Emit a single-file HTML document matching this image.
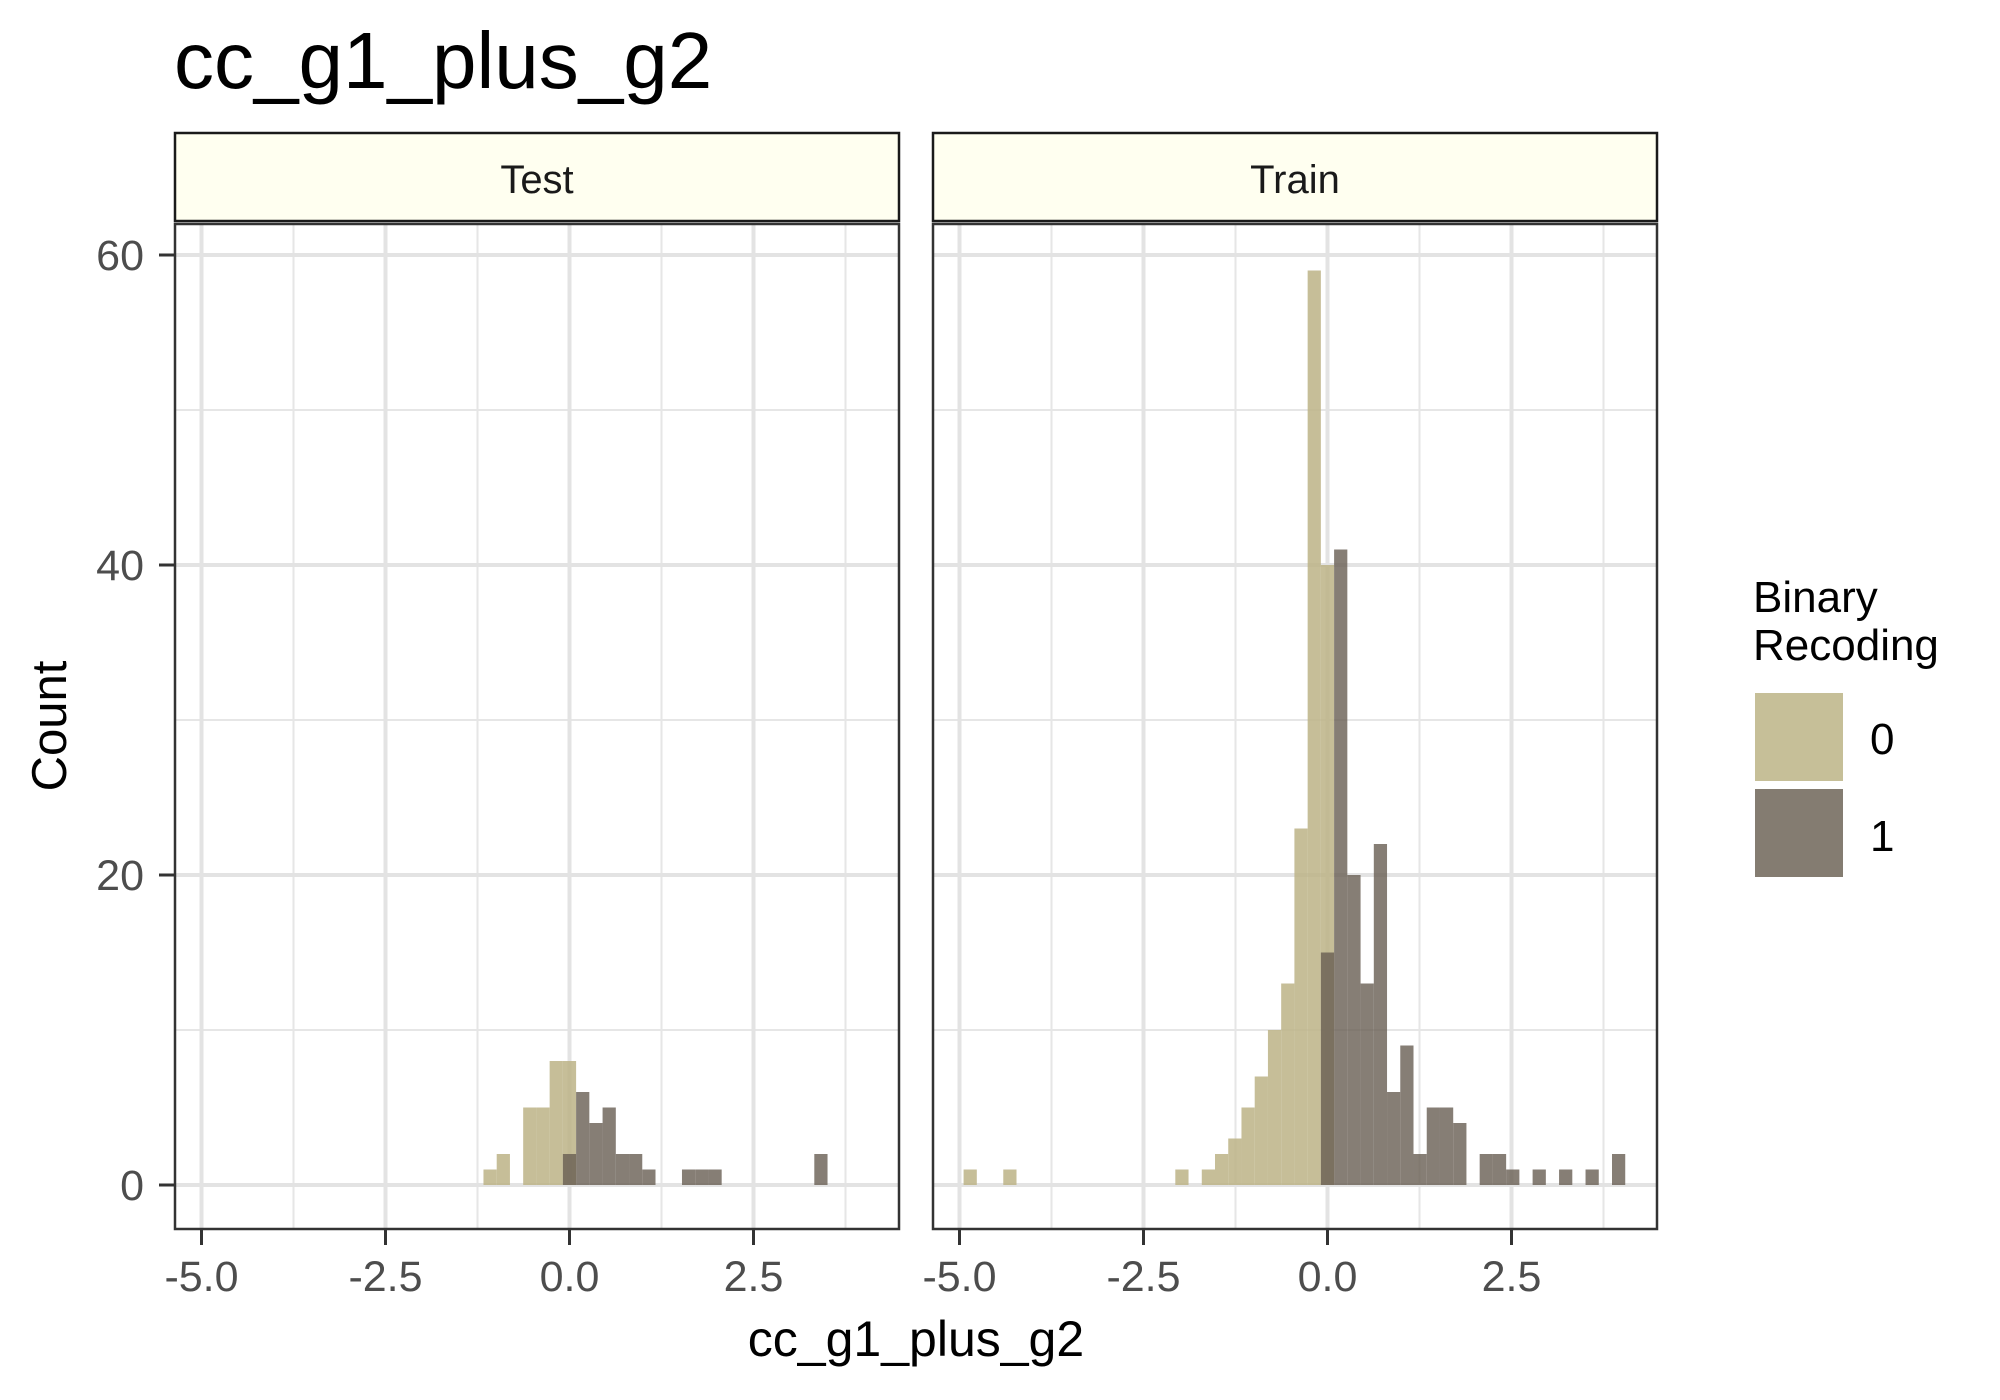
<!DOCTYPE html>
<html><head><meta charset="utf-8"><style>
html,body{margin:0;padding:0;background:#fff;}
svg{display:block;font-family:"Liberation Sans",Arial,sans-serif;}
</style></head><body>
<svg id="chart" width="2000" height="1400" viewBox="0 0 2000 1400" xmlns="http://www.w3.org/2000/svg">
<rect width="2000" height="1400" fill="#fff"/>
<text x="174" y="88" font-size="80" fill="#000">cc_g1_plus_g2</text>
<text x="916" y="1356" font-size="50" text-anchor="middle" fill="#000">cc_g1_plus_g2</text>
<text transform="translate(66,726) rotate(-90)" font-size="49" text-anchor="middle" fill="#000">Count</text>
<g>
<text x="1753" y="612" font-size="44" fill="#000">Binary</text>
<text x="1753" y="660" font-size="44" fill="#000">Recoding</text>
<rect x="1755" y="693" width="88" height="88" fill="#c6bf98"/>
<rect x="1755" y="789" width="88" height="88" fill="#847c71"/>
<text x="1870" y="754" font-size="44" fill="#000">0</text>
<text x="1870" y="851" font-size="44" fill="#000">1</text>
</g>
<g id="panels"></g>
</svg>
<script>
const binOrigin = -0.09;
const binWidth = 0.1798;
const xTicks = [-5, -2.5, 0, 2.5];
const xTickLabels = ["-5.0", "-2.5", "0.0", "2.5"];
const xMinor = [-3.75, -1.25, 1.25, 3.75];
const yTicks = [0, 20, 40, 60];
const yMinor = [10, 30, 50];
const panelNames = ["Test", "Train"];
// bin indices (relative to binOrigin) and counts
const testBins0 = [-6, -5, -3, -2, -1, 0];
const testCounts0 = [1, 2, 5, 5, 8, 8];
const testBins1 = [0, 1, 2, 3, 4, 5, 6, 9, 10, 11, 19];
const testCounts1 = [2, 6, 4, 5, 2, 2, 1, 1, 1, 1, 2];
const trainBins0 = [-27, -24, -11, -9, -8, -7, -6, -5, -4, -3, -2, -1, 0];
const trainCounts0 = [1, 1, 1, 1, 2, 3, 5, 7, 10, 13, 23, 59, 40];
const trainBins1 = [0, 1, 2, 3, 4, 5, 6, 7, 8, 9, 10, 12, 13, 14, 16, 18, 20, 22];
const trainCounts1 = [15, 41, 20, 13, 22, 6, 9, 2, 5, 5, 4, 2, 2, 1, 1, 1, 1, 2];

const NS = "http://www.w3.org/2000/svg";
const g = document.getElementById('panels');
const panelW = 724, panelTop = 224, panelBottom = 1229;
const panelLefts = [175, 933];
const xMin = -5.36, pxPerUnit = 73.6;
const y0 = 1185, pxPerCount = 15.5;
function yScale(v){ return y0 - v * pxPerCount; }
function mk(tag, attrs){ const e = document.createElementNS(NS, tag); for (const k in attrs) e.setAttribute(k, attrs[k]); return e; }

const datasets = [[testBins0, testCounts0, testBins1, testCounts1],[trainBins0, trainCounts0, trainBins1, trainCounts1]];

panelLefts.forEach((L, pi) => {
  const xScale = v => L + (v - xMin) * pxPerUnit;
  const pg = mk('g', {});
  
  
  g.appendChild(pg);
  const strip = mk('rect', {x: L, y: 133, width: panelW, height: 88, fill: '#fffff0', stroke: '#1a1a1a', 'stroke-width': 2.5});
  
  
  pg.appendChild(strip);
  const st = mk('text', {x: L + panelW/2, y: 193, 'font-size': 40, 'text-anchor': 'middle', fill: '#1a1a1a'});
  st.textContent = panelNames[pi];
  
  
  pg.appendChild(st);
  yMinor.forEach(v => { const l = mk('line', {x1: L, x2: L+panelW, y1: yScale(v), y2: yScale(v), stroke: '#e6e6e6', 'stroke-width': 2});
      pg.appendChild(l); });
  xMinor.forEach(v => { const l = mk('line', {x1: xScale(v), x2: xScale(v), y1: panelTop, y2: panelBottom, stroke: '#e6e6e6', 'stroke-width': 2});
      pg.appendChild(l); });
  yTicks.forEach(v => { const l = mk('line', {x1: L, x2: L+panelW, y1: yScale(v), y2: yScale(v), stroke: '#e3e3e3', 'stroke-width': 4});
      pg.appendChild(l); });
  xTicks.forEach(v => { const l = mk('line', {x1: xScale(v), x2: xScale(v), y1: panelTop, y2: panelBottom, stroke: '#e3e3e3', 'stroke-width': 4});
      pg.appendChild(l); });
  const [b0, c0, b1, c1] = datasets[pi];
  const groups = [[b0, c0, 'rgba(188,179,134,0.85)', 'bar-group-0'], [b1, c1, 'rgba(104,94,82,0.8)', 'bar-group-1']];
  groups.forEach(([bins, counts, col, nm]) => {
    bins.forEach((k, i) => {
      const xa = xScale(binOrigin + k * binWidth), xb = xScale(binOrigin + (k+1) * binWidth);
      const r = mk('rect', {x: xa, y: yScale(counts[i]), width: xb - xa, height: yScale(0) - yScale(counts[i]), fill: col});
      
      
      pg.appendChild(r);
    });
  });
  const bd = mk('rect', {x: L, y: panelTop, width: panelW, height: panelBottom - panelTop, fill: 'none', stroke: '#333', 'stroke-width': 2.5});
  
  
  pg.appendChild(bd);
  xTicks.forEach((v, i) => {
    const t = mk('line', {x1: xScale(v), x2: xScale(v), y1: panelBottom, y2: panelBottom + 16, stroke: '#333', 'stroke-width': 3});
      pg.appendChild(t);
    const tx = mk('text', {x: xScale(v), y: 1291, 'font-size': 43, 'text-anchor': 'middle', fill: '#4d4d4d'});
    tx.textContent = xTickLabels[i];
      pg.appendChild(tx);
  });
  if (pi === 0) {
    yTicks.forEach(v => {
      const t = mk('line', {x1: L - 16, x2: L, y1: yScale(v), y2: yScale(v), stroke: '#333', 'stroke-width': 3});
        pg.appendChild(t);
      const tx = mk('text', {x: 144, y: yScale(v) + 15, 'font-size': 43, 'text-anchor': 'end', fill: '#4d4d4d'});
      tx.textContent = String(v);
        pg.appendChild(tx);
    });
  }
});
</script>
</body></html>
